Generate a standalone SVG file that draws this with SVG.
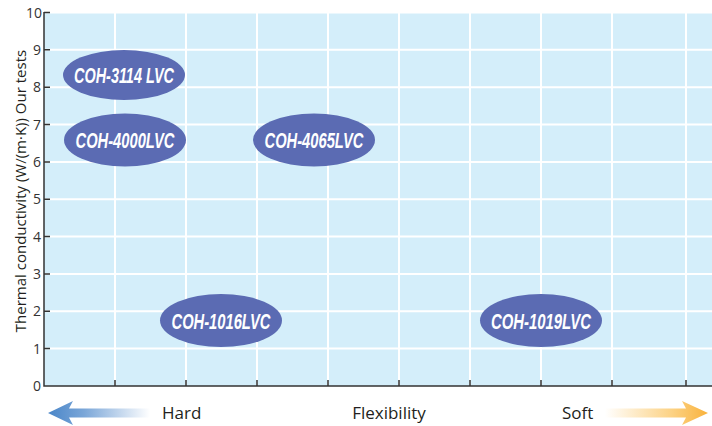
<svg xmlns="http://www.w3.org/2000/svg" width="712" height="426" viewBox="0 0 712 426">
<defs>
<linearGradient id="gBlue" x1="0" y1="0" x2="1" y2="0">
<stop offset="0" stop-color="#4a86c8"/>
<stop offset="0.35" stop-color="#7aa6d8"/>
<stop offset="1" stop-color="#ffffff"/>
</linearGradient>
<linearGradient id="gOrange" x1="0" y1="0" x2="1" y2="0">
<stop offset="0" stop-color="#ffffff"/>
<stop offset="0.65" stop-color="#fcd284"/>
<stop offset="1" stop-color="#f9b23c"/>
</linearGradient>
<style>
.grid{stroke:#ffffff;stroke-width:2;fill:none}
.tick{stroke:#333333;stroke-width:1.5;fill:none}
.num{font-family:"Open Sans","Noto Sans",sans-serif;font-size:14px;fill:#333333;text-anchor:end}
.lbl{font-family:"Open Sans","Noto Sans",sans-serif;font-size:17px;fill:#231f20}
.node ellipse{fill:#5b6bb3}
.node text{font-family:"Liberation Sans",Arial,sans-serif;font-weight:bold;font-style:italic;font-size:22px;fill:#ffffff;text-anchor:middle}
</style>
</defs>
<rect x="0" y="0" width="712" height="426" fill="#ffffff"/>
<rect x="44" y="12" width="668" height="374" fill="#d4eefa"/>
<g id="grid">
<path class="grid" d="M44 12.5H712M44 49.8H712M44 87.2H712M44 124.5H712M44 161.9H712M44 199.2H712M44 236.6H712M44 273.9H712M44 311.3H712M44 348.6H712"/>
<path class="grid" d="M115 12V386M186 12V386M257 12V386M328 12V386M399 12V386M470 12V386M541 12V386M612 12V386M686 12V386"/>
</g>
<g id="axes">
<path class="tick" d="M44 12V386H712"/>
<path class="tick" d="M44 12.5H50M44 49.8H50M44 87.2H50M44 124.5H50M44 161.9H50M44 199.2H50M44 236.6H50M44 273.9H50M44 311.3H50M44 348.6H50"/>
<path class="tick" d="M115 386V380M186 386V380M257 386V380M328 386V380M399 386V380M470 386V380M541 386V380M612 386V380M686 386V380"/>
<text class="num" x="41" y="391">0</text>
<text class="num" x="41" y="353.6">1</text>
<text class="num" x="41" y="316.3">2</text>
<text class="num" x="41" y="278.9">3</text>
<text class="num" x="41" y="241.6">4</text>
<text class="num" x="41" y="204.2">5</text>
<text class="num" x="41" y="166.9">6</text>
<text class="num" x="41" y="129.5">7</text>
<text class="num" x="41" y="92.2">8</text>
<text class="num" x="41" y="54.8">9</text>
<text class="num" x="42" y="17.5">10</text>
<text class="lbl" text-anchor="middle" transform="translate(26 191) rotate(-90)" style="font-size:15px">Thermal conductivity (W/(m·K)) Our tests</text>
</g>
<g id="legend">
<path d="M48 413L73 401L69 408.5H150V417.5H69L73 425Z" fill="url(#gBlue)"/>
<text class="lbl" x="162" y="419">Hard</text>
<text class="lbl" x="389" y="419" text-anchor="middle">Flexibility</text>
<text class="lbl" x="562" y="419">Soft</text>
<path d="M605 408.5H686L682 401L708 413L682 425L686 417.5H605Z" fill="url(#gOrange)"/>
</g>
<g id="connectors"></g>
<g id="n3114" class="node">
<ellipse cx="124" cy="75" rx="61" ry="25"/>
<text x="124" y="83" textLength="100" lengthAdjust="spacingAndGlyphs">COH-3114 LVC</text>
</g>
<g id="n4000" class="node">
<ellipse cx="125" cy="140" rx="61" ry="26.5"/>
<text x="125" y="148" textLength="99" lengthAdjust="spacingAndGlyphs">COH-4000LVC</text>
</g>
<g id="n4065" class="node">
<ellipse cx="314" cy="140" rx="61" ry="26.5"/>
<text x="314" y="148" textLength="99" lengthAdjust="spacingAndGlyphs">COH-4065LVC</text>
</g>
<g id="n1016" class="node">
<ellipse cx="221" cy="320.5" rx="61" ry="26.5"/>
<text x="221" y="328.5" textLength="99" lengthAdjust="spacingAndGlyphs">COH-1016LVC</text>
</g>
<g id="n1019" class="node">
<ellipse cx="541" cy="320.5" rx="61" ry="26.5"/>
<text x="541" y="328.5" textLength="100" lengthAdjust="spacingAndGlyphs">COH-1019LVC</text>
</g>
</svg>
